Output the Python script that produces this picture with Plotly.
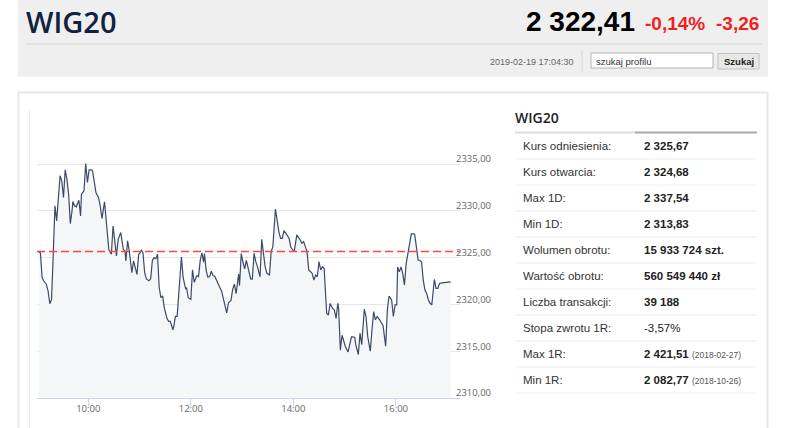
import pandas as pd
import plotly.graph_objects as go

W, H = 786, 428

# intraday WIG20 quotes, minutes after 9:00 (2019-02-19)
minutes = [2, 4, 6, 8, 11, 13, 15, 17, 19, 21, 23, 25, 27, 29, 31, 33, 35, 37, 39, 41,
           42, 44, 46, 49, 51, 52, 55, 57, 59, 61, 64, 65, 67, 69, 72, 74, 76, 79, 80, 83,
           84, 87, 89, 91, 93, 95, 98, 101, 103, 104, 106, 108, 111, 113, 115, 117, 119, 120, 122, 124,
           126, 128, 131, 133, 135, 137, 139, 141, 143, 145, 147, 149, 152, 154, 156, 159, 160, 162, 164, 167,
           169, 171, 174, 175, 177, 180, 182, 184, 187, 189, 191, 193, 195, 196, 198, 200, 202, 204, 206, 208,
           210, 212, 214, 216, 218, 220, 222, 224, 227, 229, 231, 233, 236, 237, 239, 241, 243, 245, 248, 250,
           252, 254, 256, 258, 261, 263, 265, 267, 269, 272, 274, 276, 279, 281, 283, 285, 287, 289, 291, 293,
           295, 297, 299, 301, 304, 306, 308, 310, 312, 314, 316, 318, 320, 322, 324, 326, 328, 330, 332, 334,
           336, 338, 339, 341, 343, 346, 348, 350, 352, 353, 355, 357, 359, 361, 364, 366, 368, 370, 372, 373,
           376, 378, 380, 383, 385, 387, 390, 392, 394, 396, 398, 401, 403, 405, 408, 410, 412, 415, 417, 419,
           421, 422, 424, 426, 428, 430, 432, 434, 436, 438, 441, 442, 444, 446, 448, 450, 452, 454, 456, 458,
           460, 462, 465, 467, 469, 471, 474, 480, 484]
prices = [2325.6, 2325.5, 2322.86, 2322.5, 2322.14, 2321.43, 2320.07, 2320.54, 2325.36, 2330.54,
          2328.93, 2331.43, 2333.75, 2333.21, 2331.43, 2334.39, 2333.39, 2331.79, 2328.64, 2330.0,
          2331.0, 2330.54, 2330.43, 2331.14, 2329.46, 2331.79, 2332.14, 2335.07, 2333.04, 2334.39,
          2334.39, 2334.29, 2332.86, 2331.96, 2331.43, 2330.54, 2329.18, 2330.96, 2330.0, 2326.79,
          2325.89, 2325.36, 2328.39, 2326.79, 2325.18, 2326.96, 2327.68, 2325.89, 2325.71, 2324.64,
          2326.79, 2325.71, 2323.39, 2324.64, 2323.93, 2323.21, 2325.36, 2325.43, 2325.79, 2325.54,
          2323.39, 2322.72, 2322.54, 2322.72, 2324.71, 2325.0, 2324.89, 2325.36, 2321.81, 2320.72,
          2320.91, 2319.64, 2318.55, 2318.19, 2318.19, 2317.28, 2317.64, 2318.73, 2318.73, 2322.17,
          2325.07, 2322.9, 2321.63, 2321.81, 2320.72, 2320.54, 2323.7, 2322.36, 2323.08, 2322.97,
          2324.71, 2325.51, 2324.53, 2325.43, 2323.62, 2322.9, 2322.97, 2323.55, 2323.08, 2323.01,
          2322.54, 2322.17, 2321.81, 2321.45, 2320.54, 2319.82, 2319.09, 2320.18, 2320.43, 2321.63,
          2322.17, 2321.16, 2323.26, 2321.99, 2325.43, 2324.53, 2323.8, 2324.71, 2323.62, 2322.72,
          2322.71, 2325.46, 2324.57, 2324.04, 2322.96, 2326.96, 2325.46, 2324.04, 2323.32, 2323.14,
          2325.64, 2326.18, 2330.18, 2328.86, 2327.79, 2327.07, 2327.07, 2327.89, 2327.61, 2327.43,
          2327.07, 2326.11, 2325.89, 2325.64, 2327.43, 2327.18, 2326.89, 2326.54, 2326.71, 2326.18,
          2325.64, 2323.68, 2323.5, 2323.32, 2322.61, 2323.14, 2322.96, 2324.57, 2323.68, 2324.04,
          2323.86, 2320.82, 2319.04, 2318.86, 2320.11, 2319.57, 2319.39, 2318.5, 2320.11, 2319.57,
          2315.11, 2316.71, 2316.18, 2315.46, 2314.93, 2315.82, 2316.54, 2316.54, 2316.46, 2315.71,
          2314.65, 2316.94, 2315.71, 2319.49, 2318.71, 2316.59, 2315.0, 2317.3, 2319.24, 2318.36,
          2318.71, 2318.36, 2318.0, 2317.72, 2315.53, 2319.42, 2320.9, 2320.48, 2318.71, 2319.95,
          2319.95, 2324.01, 2323.48, 2324.01, 2323.3, 2322.07, 2324.36, 2325.6, 2326.84, 2327.54,
          2327.54, 2327.47, 2326.13, 2324.72, 2324.72, 2324.54, 2322.6, 2321.54, 2321.18, 2320.48,
          2320.12, 2319.95, 2322.67, 2321.71, 2321.71, 2322.24, 2322.31, 2322.39, 2322.41]

ref_price = 2325.67
y_ticks = [2310, 2315, 2320, 2325, 2330, 2335, 2340]
y_ticktext = ["2310,00", "2315,00", "2320,00", "2325,00", "2330,00", "2335,00", ""]

stat_labels = ["Kurs odniesienia:", "Kurs otwarcia:", "Max 1D:", "Min 1D:", "Wolumen obrotu:",
               "Wartość obrotu:", "Liczba transakcji:", "Stopa zwrotu 1R:", "Max 1R:", "Min 1R:"]
stat_values = ["2 325,67", "2 324,68", "2 337,54", "2 313,83", "15 933 724 szt.",
               "560 549 440 zł", "39 188", "-3,57%", "2 421,51", "2 082,77"]
stat_dates = ["", "", "", "", "", "", "", "", "2018-02-27", "2018-10-26"]

base = pd.Timestamp("2019-02-19 09:00")
times = base + pd.to_timedelta(minutes, unit="m")


def X(p):
    return p / W


def Y(p):
    return 1 - p / H


fig = go.Figure()
fig.add_trace(go.Scatter(x=times, y=prices, mode="lines", fill="tozeroy",
                         fillcolor="#f5f6f8", line=dict(color="#3b4a66", width=1.2),
                         hoverinfo="skip"))

shapes = []
annotations = []


def rect(x0, y0, x1, y1, fill, line="rgba(0,0,0,0)", lw=0):
    shapes.append(dict(type="rect", xref="paper", yref="paper", x0=X(x0), x1=X(x1),
                       y0=Y(y0), y1=Y(y1), fillcolor=fill,
                       line=dict(color=line, width=lw), layer="below"))


def hline(x0, x1, y, color, lw=1):
    shapes.append(dict(type="line", xref="paper", yref="paper", x0=X(x0), x1=X(x1),
                       y0=Y(y), y1=Y(y), line=dict(color=color, width=lw), layer="below"))


def vline(x, y0, y1, color, lw=1):
    shapes.append(dict(type="line", xref="paper", yref="paper", x0=X(x), x1=X(x),
                       y0=Y(y0), y1=Y(y1), line=dict(color=color, width=lw), layer="below"))


def text(x, y, s, size, color, anchor="left", family="Liberation Sans, Arial", weight=None):
    f = dict(size=size, color=color, family=family)
    if weight:
        f["weight"] = weight
    annotations.append(dict(xref="paper", yref="paper", x=X(x), y=Y(y), text=s,
                            showarrow=False, xanchor=anchor, yanchor="middle",
                            font=f, borderpad=0))


# header bar
rect(18, 0, 768, 76.5, "#efefef")
hline(26, 762, 44, "#d9d9d9")
vline(582, 50, 72, "#d6d6d6")
rect(591, 53, 713, 68, "white", "#b5b5b5", 1)
rect(718, 53.5, 759, 69, "#e8e8e8", "#c2c2c2", 1)
text(25, 21, "WIG20", 29, "#10223f", family="Open Sans", weight=600)
text(636, 22, "2 322,41", 28, "#000000", anchor="right", weight="bold")
text(706, 23.5, "-0,14%", 19, "#f21f1f", anchor="right", weight="bold")
text(760, 23.5, "-3,26", 19, "#f21f1f", anchor="right", weight="bold")
text(575, 61.5, "2019-02-19 17:04:30", 9, "#666666", anchor="right")
text(595, 61, "szukaj profilu", 9.5, "#333333")
text(738.5, 61.5, "<b>Szukaj</b>", 9.5, "#222222", anchor="center")

# main panel
rect(18.5, 92.5, 767.5, 440, "white", "#e8e8e8", 2)
vline(29.5, 110, 428, "#ececec")

# stats table
text(514, 118, "WIG20", 14, "#222222", family="Open Sans", weight=600)
hline(515, 635, 132.5, "#dcdcdc", 2)
hline(635, 757, 132.5, "#aaaaaa", 2)
for i, (lab, val, dt) in enumerate(zip(stat_labels, stat_values, stat_dates)):
    yc = 133 + 26 * i + 13
    text(522, yc, lab, 11.5, "#333333")
    s = val if val.startswith("-") else "<b>" + val + "</b>"
    if dt:
        s += " <span style='font-size:8.5px;color:#555555'>(" + dt + ")</span>"
    text(643, yc, s, 11.5, "#222222")
    hline(515, 757, 133 + 26 * (i + 1), "#ececec")

# reference price line
shapes.append(dict(type="line", xref="x domain", yref="y", x0=0, x1=1, y0=ref_price, y1=ref_price,
                   line=dict(color="#ff4545", width=1.5, dash="8px,4px"), layer="above"))

fig.update_layout(
    width=W, height=H, autosize=False,
    margin=dict(l=0, r=0, t=0, b=0),
    paper_bgcolor="white", plot_bgcolor="rgba(0,0,0,0)",
    showlegend=False,
    shapes=shapes, annotations=annotations,
    font=dict(family="Open Sans", size=9.5, color="#666666"),
    xaxis=dict(domain=[X(37), X(460)], range=[base, base + pd.Timedelta(minutes=495)],
               type="date", tick0="2019-02-19 10:00", dtick=2 * 3600 * 1000, tickformat="%H:%M",
               showgrid=False, zeroline=False, showline=True, linecolor="#ccd6eb", linewidth=1,
               ticks="outside", ticklen=7, tickcolor="#ccd6eb", ticklabelstandoff=-5,
               tickfont=dict(family="Open Sans", size=9.5, color="#666666")),
    yaxis=dict(domain=[Y(398), Y(117.3)], range=[2310, 2340], side="right",
               tickvals=y_ticks, ticktext=y_ticktext,
               showgrid=True, gridcolor="#e6e6e6", gridwidth=1, zeroline=False, showline=False,
               ticks="", ticklabelshift=-5, ticklabelstandoff=-5,
               tickfont=dict(family="Open Sans", size=9.5, color="#666666")),
)

# page body has a default 8px margin; drop it (and any scrollbars) so the figure fills the window
page_fix = ("document.documentElement.style.overflow='hidden';"
            "document.body.style.margin='0';"
            "document.body.style.overflow='hidden';"
            "document.body.style.height='428px';")
fig.write_html("out.html", config={"displayModeBar": False}, post_script=page_fix)
